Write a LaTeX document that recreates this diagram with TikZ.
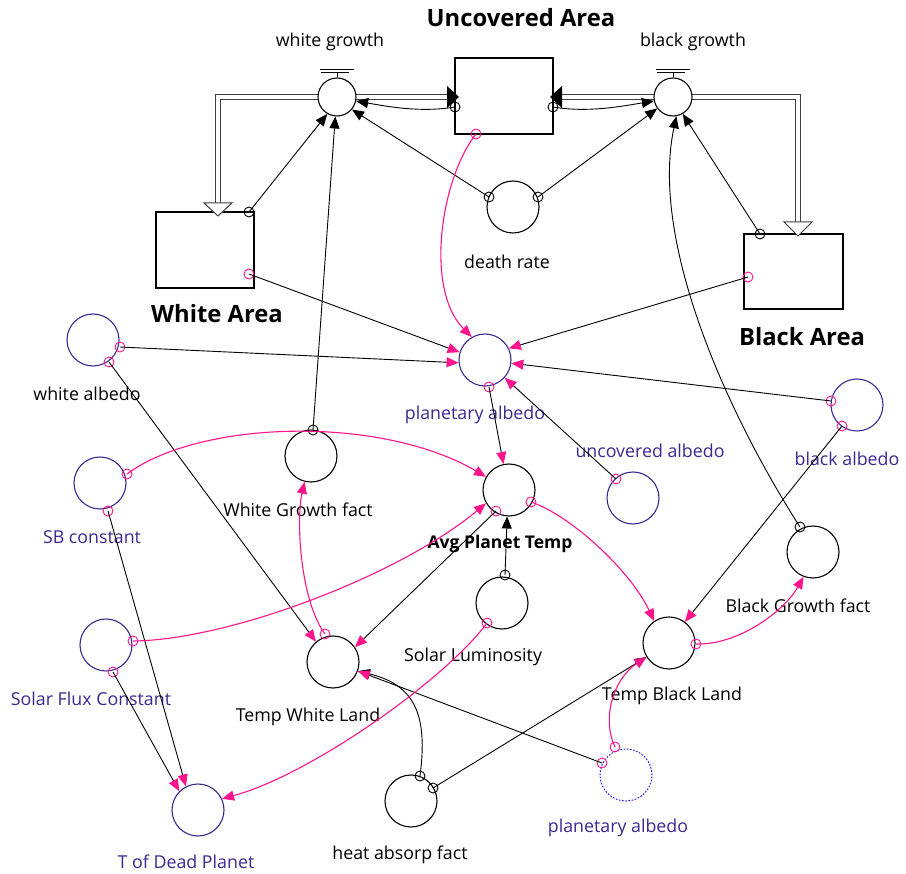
\documentclass[tikz,border=0pt]{standalone}
\usepackage{fontspec}
\setmainfont{Open Sans}
\usetikzlibrary{arrows.meta}
\definecolor{pk}{RGB}{255,20,140}
\definecolor{pu}{RGB}{60,40,145}
\definecolor{gb}{RGB}{30,30,240}
\pgfdeclarelayer{bg}
\pgfsetlayers{bg,main}
\begin{document}
\begin{tikzpicture}[x=1pt,y=-1pt,
 conv/.style={circle,draw=black,line width=1.1pt,minimum size=52pt,inner sep=0pt,fill=white},
 pconv/.style={conv,draw=pu},
 valve/.style={circle,draw=black,line width=1.1pt,minimum size=38pt,inner sep=0pt,fill=white},
 stock/.style={rectangle,draw=black,line width=1.1pt,fill=white,inner sep=0pt},
 pdot/.style={circle,draw=pk,line width=0.9pt,minimum size=10pt,inner sep=0pt},
 bdot/.style={circle,draw=black,line width=0.9pt,minimum size=10pt,inner sep=0pt},
 lbl/.style={font=\fontsize{17.8}{20}\selectfont,inner sep=0pt},
 plbl/.style={lbl,text=pu},
 blbl/.style={font=\bfseries\fontsize{23.8}{26}\selectfont,inner sep=0pt},
 pipe/.style={draw=black!75,line width=1pt,double=white,double distance=3.5pt},
 bl/.style={draw=black,line width=0.9pt,-{Triangle[length=12pt,width=10pt]}},
 bp/.style={draw=black,line width=0.9pt,-{Triangle[length=12pt,width=10pt,color=pk]}},
 pp/.style={draw=pk,line width=1.1pt,-{Triangle[length=12pt,width=10pt]}},
]
\useasboundingbox (0,0) rectangle (906,874);

% stocks and valves
\node[stock,minimum width=98pt,minimum height=76pt] (UA) at (504,96) {};
\node[stock,minimum width=98pt,minimum height=76pt] (WA) at (205,250) {};
\node[stock,minimum width=99pt,minimum height=75pt] (BA) at (793.5,271.5) {};
\node[valve] (WG) at (337,97) {};
\node[valve] (BG) at (673,97) {};

% converters
\node[conv] (DR) at (513,207) {};
\node[pconv] (PA) at (485,360) {};
\node[conv] (APT) at (509,490) {};
\node[pconv] (UAB) at (633,498) {};
\node[pconv] (BAB) at (857,405) {};
\node[pconv] (WAB) at (93,340) {};
\node[pconv] (SB) at (100,483) {};
\node[pconv] (SFC) at (106,645) {};
\node[pconv] (TDP) at (198,810) {};
\node[conv] (WGF) at (311,456) {};
\node[conv] (TWL) at (333,662) {};
\node[conv] (SL) at (502,603) {};
\node[conv] (TBL) at (669,643) {};
\node[conv] (BGF) at (813,552) {};
\node[conv] (HAF) at (411,801) {};
\node[circle,draw=gb,line width=1pt,dash pattern=on 1.6pt off 1.6pt,minimum size=52pt,inner sep=0pt] (GPA) at (626,775) {};

% labels
\node[blbl] (LUA) at (521,18) {Uncovered Area};
\node[blbl] (LWA) at (217,314) {White Area};
\node[blbl] (LBA) at (802,337) {Black Area};
\node[lbl] (LWG) at (330,42) {white growth};
\node[lbl] (LBG) at (693,42) {black growth};
\node[lbl] (LDR) at (507,262) {death rate};
\node[lbl] (LWAB) at (87,394) {white albedo};
\node[plbl] (LPA) at (475,415) {planetary albedo};
\node[plbl] (LUAB) at (650,451) {uncovered albedo};
\node[plbl] (LBAB) at (847,459) {black albedo};
\node[plbl] (LSB) at (92,537) {SB constant};
\node[lbl] (LWGF) at (298,510) {White Growth fact};
\node[font=\bfseries\fontsize{17.5}{20}\selectfont,inner sep=0pt] (LAPT) at (500,544) {Avg Planet Temp};
\node[lbl] (LBGF) at (798,606) {Black Growth fact};
\node[lbl] (LSL) at (473,657) {Solar Luminosity};
\node[plbl] (LSFC) at (91,699) {Solar Flux Constant};
\node[lbl] (LTWL) at (308,717) {Temp White Land};
\node[lbl] (LTBL) at (672,696) {Temp Black Land};
\node[plbl] (LTDP) at (186,862) {T of Dead Planet};
\node[lbl] (LHAF) at (400,855) {heat absorp fact};
\node[plbl] (LGPA) at (618,828) {planetary albedo};

% valve tops
\foreach \v in {WG,BG}{
  \draw[line width=0.8pt,shift={(\v.north)}] (-17,-8)--(17,-8) (-16,-5)--(12,-5) (0,-5)--(0,0);
}

% pipes (behind)
\coordinate (wc) at (218,97);
\coordinate (wb) at (218,203);
\coordinate (wt) at (218,216);
\coordinate (bc) at (798,97);
\coordinate (bb) at (798,222);
\coordinate (bt) at (798,236);
\begin{pgfonlayer}{bg}
\draw[pipe] (UA.west |- WG.center) -- (wc) -- (wb);
\draw[pipe] (UA.east |- BG.center) -- (bc) -- (bb);
\end{pgfonlayer}
\draw[draw=black!75,line width=1pt,fill=white] (wb) ++(-14,0) -- ++(28,0) -- (wt) -- cycle;
\draw[draw=black!75,line width=1pt,fill=white] (bb) ++(-14,0) -- ++(28,0) -- (bt) -- cycle;
\fill (459,97) -- (447,86) -- (447,108) -- cycle;
\fill (550,97) -- (562,86) -- (562,108) -- cycle;

% connector origins
\node[bdot] (dUAw) at (455,107) {};
\node[bdot] (dUAb) at (553,107) {};
\node[pdot] (dUAp) at (476,134) {};
\node[bdot] (dDRw) at (489,197) {};
\node[bdot] (dDRb) at (538,197) {};
\node[bdot] (dWAg) at (249,212) {};
\node[pdot] (dWAp) at (249,274) {};
\node[bdot] (dWGF) at (313,430) {};
\node[bdot] (dBAg) at (760,234) {};
\node[pdot] (dBAp) at (748,277) {};
\node[bdot] (dBGF) at (800,527) {};
\node[pdot] (dWABp) at (120,347) {};
\node[pdot] (dWABt) at (109,362) {};
\node[pdot] (dBABp) at (831,401) {};
\node[pdot] (dBABt) at (842,426) {};
\node[pdot] (dUAB) at (616,479) {};
\node[pdot] (dPA) at (489,387) {};
\node[pdot] (dSBa) at (127,474) {};
\node[pdot] (dSBt) at (108,511) {};
\node[pdot] (dSFCa) at (133,641) {};
\node[pdot] (dSFCt) at (113,672) {};
\node[pdot] (dTWL) at (325,634) {};
\node[pdot] (dAPTw) at (496,511) {};
\node[pdot] (dAPTb) at (531,502) {};
\node[bdot] (dSLa) at (505,575) {};
\node[pdot] (dSLt) at (487,623) {};
\node[pdot] (dTBL) at (696,644) {};
\node[bdot] (dHAFw) at (420,776) {};
\node[bdot] (dHAFb) at (433,788) {};
\node[pdot] (dGPAb) at (615,747) {};
\node[pdot] (dGPAw) at (602,763) {};

% black connectors
\draw[bl] (dUAw.center) .. controls (420,113) and (385,106) .. (WG.-12);
\draw[bl] (dUAb.center) .. controls (588,113) and (623,106) .. (BG.192);
\draw[bl] (dDRw.center) -- (WG.-40);
\draw[bl] (dDRb.center) -- (BG.216);
\draw[bl] (dWAg.center) -- (WG.240);
\draw[bl] (dWGF.center) -- (WG.265);
\draw[bl] (dBAg.center) -- (BG.-60);
\draw[bl] (dBGF.center) .. controls (725,410) and (650,240) .. (BG.-80);
\draw[bl] (dSLa.center) -- (APT.266);
\draw[bl] (dHAFw.center) .. controls (428,715) and (415,685) .. (TWL.-20);
\draw[bl] (dHAFb.center) -- (TBL.212);

% black lines with pink heads
\draw[bp] (dWAp.center) -- (PA.163);
\draw[bp] (dBAp.center) -- (PA.26);
\draw[bp] (dWABp.center) -- (PA.186);
\draw[bp] (dWABt.center) -- (TWL.130);
\draw[bp] (dBABp.center) -- (PA.-7);
\draw[bp] (dBABt.center) -- (TBL.53);
\draw[bp] (dUAB.center) -- (PA.-42);
\draw[bp] (dPA.center) -- (APT.102);
\draw[bp] (dSBt.center) -- (TDP.117);
\draw[bp] (dSFCt.center) -- (TDP.135);
\draw[bp] (dAPTw.center) -- (TWL.34);
\draw[bp] (dGPAw.center) -- (TWL.-20);

% pink connectors
\draw[pp] (dUAp.center) .. controls (440,180) and (425,290) .. (PA.120);
\draw[pp] (dSBa.center) .. controls (200,420) and (380,415) .. (APT.150);
\draw[pp] (dSFCa.center) .. controls (230,640) and (400,575) .. (APT.210);
\draw[pp] (dTWL.center) .. controls (300,600) and (296,520) .. (WGF.256);
\draw[pp] (dAPTb.center) .. controls (570,515) and (630,570) .. (TBL.124);
\draw[pp] (dSLt.center) .. controls (445,680) and (310,775) .. (TDP.25);
\draw[pp] (dTBL.center) .. controls (740,645) and (785,610) .. (BGF.249);
\draw[pp] (dGPAb.center) .. controls (602,720) and (612,680) .. (TBL.212);
\end{tikzpicture}
\end{document}
